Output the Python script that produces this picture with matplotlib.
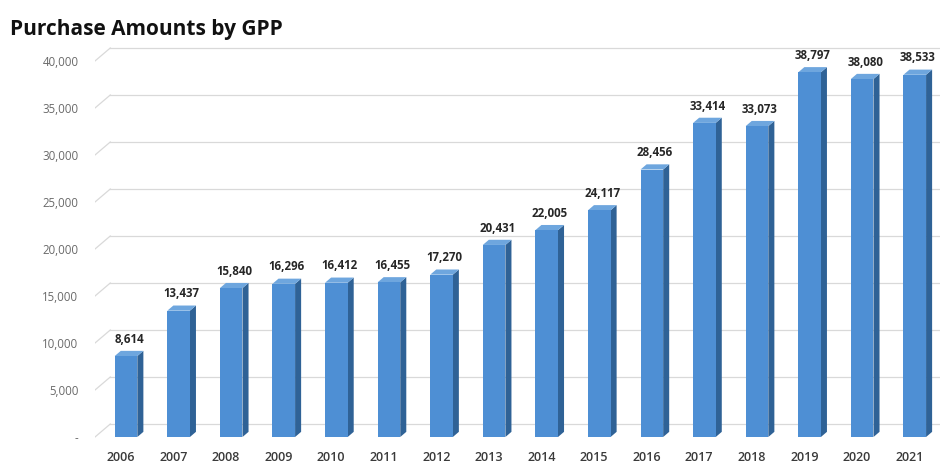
import numpy as np
import matplotlib
matplotlib.use('Agg')
import matplotlib.pyplot as plt
from matplotlib.patches import Polygon

plt.rcParams['font.family'] = ['Open Sans', 'DejaVu Sans']

# data
years = ['2006', '2007', '2008', '2009', '2010', '2011', '2012', '2013',
         '2014', '2015', '2016', '2017', '2018', '2019', '2020', '2021']
amounts = [8614, 13437, 15840, 16296, 16412, 16455, 17270, 20431,
           22005, 24117, 28456, 33414, 33073, 38797, 38080, 38533]
yticks = [0, 5000, 10000, 15000, 20000, 25000, 30000, 35000, 40000]
ytick_labels = ['-', '5,000', '10,000', '15,000', '20,000', '25,000',
                '30,000', '35,000', '40,000']

# 3d look
w = 0.43       # front face width
dx = 0.115     # depth offset in x
dy = 550       # depth offset in y
front_c = '#4E8FD4'
side_c = '#2F6296'
top_c = '#6EA6DE'

fig = plt.figure(figsize=(9.45, 4.66), dpi=100)
ax = fig.add_axes([95/945, 21/466, 845/945, 400/466])
ax.set_xlim(-0.59, 15.48)
ax.set_ylim(-850, 41700)

# back wall grid lines with a short diagonal at the left
gx0, gx1 = -0.59, -0.30
for v in yticks:
    ax.plot([gx0, gx1], [v, v + 1380], color='#D9D9D9', lw=0.9, zorder=1)
    ax.plot([gx1, 15.48], [v + 1380, v + 1380], color='#D9D9D9', lw=0.9, zorder=1)

x = np.arange(len(years))
for xi, v in zip(x, amounts):
    x0, x1 = xi - w / 2, xi + w / 2
    ax.add_patch(Polygon([(x1, 0), (x1 + dx, dy), (x1 + dx, v + dy), (x1, v)],
                         closed=True, fc=side_c, ec='none', zorder=3))
    ax.add_patch(Polygon([(x0, v), (x1, v), (x1 + dx, v + dy), (x0 + dx, v + dy)],
                         closed=True, fc=top_c, ec='none', zorder=3))
    ax.add_patch(Polygon([(x0, 0), (x1, 0), (x1, v), (x0, v)],
                         closed=True, fc=front_c, ec='none', zorder=4))
    ax.text(xi + dx / 2, v + dy + 550, f'{v:,}', ha='center', va='bottom',
            fontsize=8.3, fontweight='bold', color='#262626', zorder=5)

ax.set_yticks(yticks)
ax.set_yticklabels(ytick_labels, fontsize=8.3, color='#6A6A6A')
ax.tick_params(axis='y', length=0, pad=12)
ax.set_xticks(x - 0.1)
ax.set_xticklabels(years, fontsize=9, color='#3A3A3A', fontweight='semibold')
ax.tick_params(axis='x', length=0, pad=4)
for s in ax.spines.values():
    s.set_visible(False)

fig.text(10/945, 1 - 29/466, 'Purchase Amounts by GPP', fontsize=15,
         fontweight='bold', color='#111111', va='center', ha='left')

fig.savefig('out.png', dpi=100)
